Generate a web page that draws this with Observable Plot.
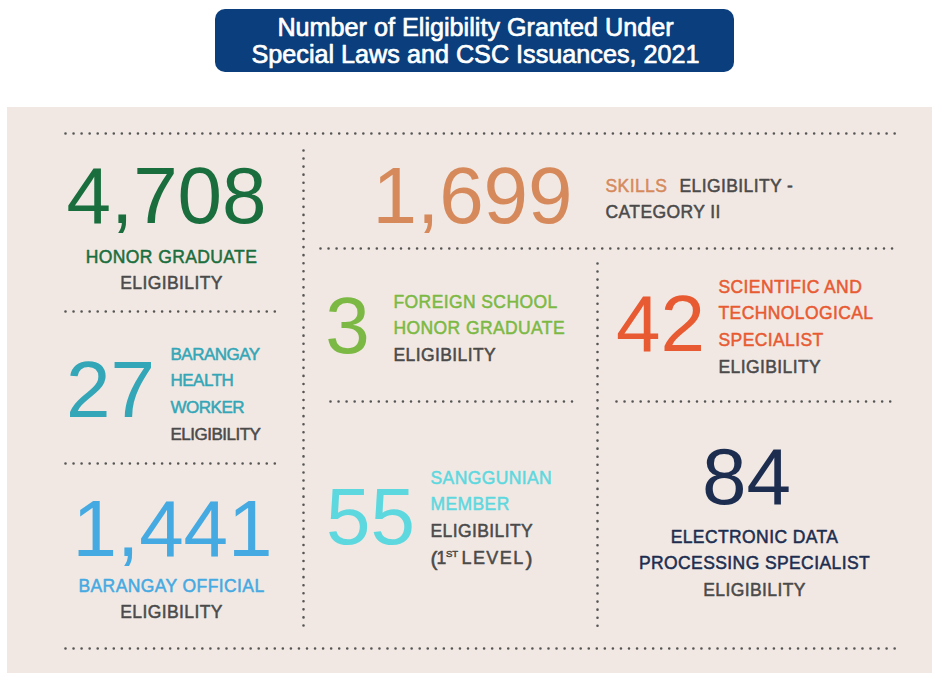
<!DOCTYPE html>
<html>
<head>
<meta charset="utf-8">
<script src="https://cdn.jsdelivr.net/npm/d3@7"></script>
<script src="https://cdn.jsdelivr.net/npm/@observablehq/plot@0.6"></script>
<style>
  html, body { margin: 0; padding: 0; background: #ffffff; }
  #chart svg { display: block; }
</style>
</head>
<body>
<div id="chart"></div>
<script>
// ---------- DATA ----------
const title = ["Number of Eligibility Granted Under", "Special Laws and CSC Issuances, 2021"];
const categories = [
  "Honor Graduate", "Skills Eligibility - Category II", "Barangay Health Worker",
  "Foreign School Honor Graduate", "Scientific and Technological Specialist",
  "Barangay Official", "Sanggunian Member (1st Level)", "Electronic Data Processing Specialist"
];
const counts = [4708, 1699, 27, 3, 42, 1441, 55, 84];
const highlightLines = [
  ["HONOR GRADUATE"],
  ["SKILLS"],
  ["BARANGAY", "HEALTH", "WORKER"],
  ["FOREIGN SCHOOL", "HONOR GRADUATE"],
  ["SCIENTIFIC AND", "TECHNOLOGICAL", "SPECIALIST"],
  ["BARANGAY OFFICIAL"],
  ["SANGGUNIAN", "MEMBER"],
  ["ELECTRONIC DATA", "PROCESSING SPECIALIST"]
];
const plainLines = [
  ["ELIGIBILITY"],
  ["ELIGIBILITY -", "CATEGORY II"],
  ["ELIGIBILITY"],
  ["ELIGIBILITY"],
  ["ELIGIBILITY"],
  ["ELIGIBILITY"],
  ["ELIGIBILITY", "(|1|ST|LEVEL|)"],
  ["ELIGIBILITY"]
];

// ---------- STYLES & LAYOUT ----------
const palette = ["#1a6e3d", "#d68a5c", "#33a6b7", "#7cb944", "#e85a32", "#45aae2", "#5ed8df", "#1c2d50"];
const grey = "#4a4a4a";
const panelColor = "#f1e8e3";
const titleColor = "#0a3e7c";
const dotColor = "#555555";
const FONT = "'Liberation Sans', Arial, sans-serif";
const W = 932, H = 673;
const LABEL_SIZE = 17.5;
const spacingByClass = {spaced: "0.4px", tight: "-0.5px", plain: "0px", wide: "1.4px"};

const layout = [
  {nx: 166, ny: 222, lx: 171, ly: 262, la: "middle", sp: "spaced"},
  {nx: 472, ny: 222, lx: 605, ly: 191, la: "start", sp: "spaced", inlineX: 679},
  {nx: 110, ny: 416, lx: 170, ly: 359, la: "start", sp: "tight"},
  {nx: 347, ny: 352, lx: 393, ly: 307, la: "start", sp: "spaced"},
  {nx: 660, ny: 350, lx: 718, ly: 292, la: "start", sp: "spaced"},
  {nx: 172, ny: 555, lx: 171, ly: 591, la: "middle", sp: "spaced"},
  {nx: 370, ny: 543, lx: 430, ly: 483, la: "start", sp: "spaced"},
  {nx: 746, ny: 503, lx: 754, ly: 542, la: "middle", sp: "spaced"}
];
const lineStep = 26.7;
// pieces of the "(1st level)" line: x offset, y offset, size, spacing class
const pieceStyle = [
  {dx: 0, dy: 2, s: 21, sp: "plain"},
  {dx: 6, dy: 0, s: 17.5, sp: "plain"},
  {dx: 15.5, dy: -7, s: 9.5, sp: "plain"},
  {dx: 31, dy: 0, s: 18, sp: "wide"},
  {dx: 95, dy: 2, s: 21, sp: "plain"}
];

const segments = [
  {x1: 65, y1: 133, x2: 895, y2: 133},
  {x1: 65, y1: 648, x2: 895, y2: 648},
  {x1: 65, y1: 311, x2: 277, y2: 311},
  {x1: 65, y1: 463, x2: 277, y2: 463},
  {x1: 303, y1: 150, x2: 303, y2: 628},
  {x1: 320, y1: 248, x2: 893, y2: 248},
  {x1: 597, y1: 263, x2: 597, y2: 628},
  {x1: 330, y1: 401, x2: 575, y2: 401},
  {x1: 616, y1: 401, x2: 893, y2: 401}
];

// ---------- BUILD TEXT ROWS ----------
const fmt = d3.format(",");
const numberRows = counts.map((v, i) => ({x: layout[i].nx, y: layout[i].ny, t: fmt(v), c: palette[i]}));

const labelRows = [];
categories.forEach((cat, i) => {
  const L = layout[i];
  const size = L.sp === "tight" ? 17 : LABEL_SIZE;
  let row = 0;
  highlightLines[i].forEach(t => {
    labelRows.push({x: L.lx, y: L.ly + row * lineStep, t, c: palette[i], s: size, anchor: L.la, sp: L.sp});
    row++;
  });
  plainLines[i].forEach((t, j) => {
    if (L.inlineX != null && j === 0) {
      labelRows.push({x: L.inlineX, y: L.ly, t, c: grey, s: size, anchor: "start", sp: L.sp});
      return;
    }
    if (t.includes("|")) {
      const y = L.ly + row * lineStep;
      t.split("|").forEach((p, k) => {
        const ps = pieceStyle[k];
        labelRows.push({x: L.lx + ps.dx, y: y + ps.dy, t: p, c: grey, s: ps.s, anchor: "start", sp: ps.sp});
      });
      row++;
      return;
    }
    labelRows.push({x: L.lx, y: L.ly + row * lineStep, t, c: grey, s: size, anchor: L.la, sp: L.sp});
    row++;
  });
});

const titleRows = title.map((t, i) => ({x: 475, y: 35.5 + i * 26.5, t}));

function labelMark(anchor) {
  const rows = labelRows.filter(d => d.anchor === anchor);
  return Plot.text(rows, {
    x: "x", y: "y", text: "t", fill: "c", stroke: "c", strokeWidth: 0.5,
    fontSize: "s", textAnchor: anchor, lineAnchor: "bottom",
    fontFamily: FONT, ariaLabel: "sp"
  });
}

const chart = Plot.plot({
  width: W, height: H, margin: 0,
  x: {domain: [0, W], range: [0, W], axis: null},
  y: {domain: [0, H], range: [0, H], axis: null},
  color: {type: "identity"},
  style: {background: "#ffffff"},
  marks: [
    Plot.rect([{x1: 7, x2: W, y1: 107, y2: H}], {x1: "x1", x2: "x2", y1: "y1", y2: "y2", fill: panelColor}),
    Plot.rect([{x1: 215, x2: 734, y1: 9, y2: 72}], {x1: "x1", x2: "x2", y1: "y1", y2: "y2", fill: titleColor, rx: 10}),
    Plot.text(titleRows, {x: "x", y: "y", text: "t", fill: "#ffffff", stroke: "#ffffff", strokeWidth: 0.7,
      fontSize: 25.2, textAnchor: "middle", lineAnchor: "bottom", fontFamily: FONT}),
    Plot.link(segments, {x1: "x1", y1: "y1", x2: "x2", y2: "y2", stroke: dotColor, strokeWidth: 2.6,
      strokeDasharray: "0 8.05", strokeLinecap: "round"}),
    Plot.text(numberRows, {x: "x", y: "y", text: "t", fill: "c", fontSize: 80, textAnchor: "middle",
      lineAnchor: "bottom", fontFamily: FONT}),
    labelMark("start"),
    labelMark("middle")
  ]
});

Object.entries(spacingByClass).forEach(([k, v]) => {
  d3.select(chart).selectAll(`text[aria-label="${k}"]`).attr("letter-spacing", v);
});
document.getElementById("chart").appendChild(chart);
</script>
</body>
</html>
